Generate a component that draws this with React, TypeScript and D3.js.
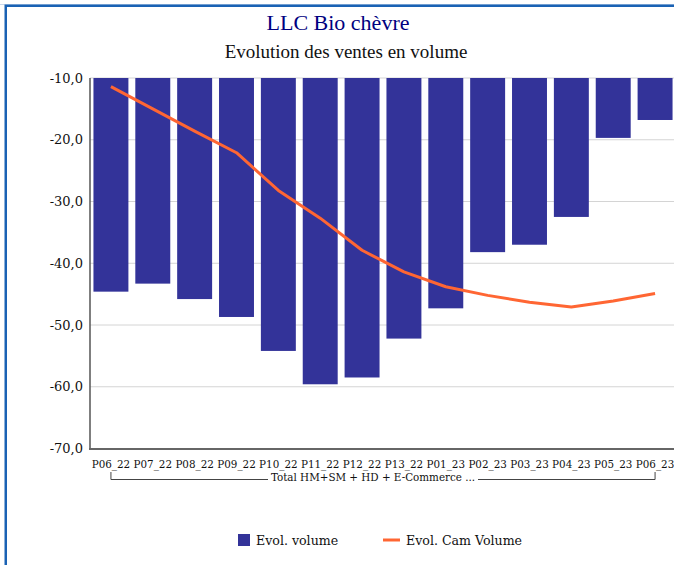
import React from "react";
import * as d3 from "d3";

const categories = ["P06_22","P07_22","P08_22","P09_22","P10_22","P11_22","P12_22","P13_22","P01_23","P02_23","P03_23","P04_23","P05_23","P06_23"];
const evolVolume = [-44.6,-43.3,-45.8,-48.7,-54.2,-59.6,-58.5,-52.2,-47.3,-38.2,-37.0,-32.5,-19.7,-16.8];
const evolCamVolume = [-11.4,-15.0,-18.6,-22.1,-28.2,-32.7,-37.9,-41.4,-43.8,-45.2,-46.3,-47.1,-46.1,-44.9];
const yTicks = [-10,-20,-30,-40,-50,-60,-70];
const groupLabel = "Total HM+SM + HD + E-Commerce ...";

const W = 674, H = 565;
const BAR = "#333399";
const LINE = "#ff6633";

export default function App() {
  const x = d3.scaleBand<string>().domain(categories).range([90, 676]).paddingInner(0.165).paddingOuter(0.0825);
  const y = d3.scaleLinear().domain([-70, -10]).range([448.5, 78]);
  const cx = (c: string) => (x(c) as number) + x.bandwidth() / 2;
  const line = d3.line<number>().x((_, i) => cx(categories[i])).y(d => y(d));
  const first = cx(categories[0]);
  const last = cx(categories[categories.length - 1]);
  const mid = (first + last) / 2 - 10;
  const fmt = (t: number) => t.toFixed(1).replace(".", ",");
  return (
    <svg width={W} height={H} style={{ position: "absolute", left: 0, top: 0, background: "#fff" }}>
      <line x1={0} x2={W} y1={4.5} y2={4.5} stroke="#c8d8ec" strokeWidth={1} />
      <path d={`M5.75,${H} V5.75 H${W}`} fill="none" stroke="#1a62b4" strokeWidth={2.5} />
      <text x={338} y={30} textAnchor="middle" fontFamily="Liberation Serif" fontSize={22} fill="#000080">LLC Bio chèvre</text>
      <text x={346} y={58} textAnchor="middle" fontFamily="Liberation Serif" fontSize={19} fill="#111">Evolution des ventes en volume</text>
      {yTicks.map(t => (
        <g key={t}>
          {t !== -70 && <line x1={90} x2={W} y1={y(t)} y2={y(t)} stroke="#d4d4d4" strokeWidth={1} />}
          <text x={83} y={y(t) + 4.5} textAnchor="end" fontFamily="DejaVu Serif" fontSize={13} fill="#111">{fmt(t)}</text>
        </g>
      ))}
      {categories.map((c, i) => (
        <rect key={c} x={x(c)} y={y(-10)} width={x.bandwidth()} height={y(evolVolume[i]) - y(-10)} fill={BAR} />
      ))}
      <path d={line(evolCamVolume) || ""} fill="none" stroke={LINE} strokeWidth={3} strokeLinejoin="round" />
      <line x1={90} x2={90} y1={78} y2={449.5} stroke="#555" strokeWidth={1.5} />
      <line x1={89} x2={W} y1={449} y2={449} stroke="#666" strokeWidth={2} />
      {categories.map(c => (
        <text key={c} x={cx(c)} y={468} textAnchor="middle" fontFamily="DejaVu Serif" fontStretch="condensed" fontSize={11.5} fill="#111">{c}</text>
      ))}
      <path d={`M${first},472 V479.5 H${mid - 105}`} fill="none" stroke="#444" strokeWidth={1} />
      <path d={`M${last},472 V479.5 H${mid + 105}`} fill="none" stroke="#444" strokeWidth={1} />
      <text x={mid} y={481} textAnchor="middle" fontFamily="DejaVu Serif" fontStretch="condensed" fontSize={11.5} fill="#111">{groupLabel}</text>
      <rect x={238} y={534} width={12} height={12} fill={BAR} />
      <text x={256} y={545} fontFamily="DejaVu Serif" fontSize={12.6} fill="#111">Evol. volume</text>
      <line x1={383} x2={400} y1={540} y2={540} stroke={LINE} strokeWidth={3} />
      <text x={406} y={545} fontFamily="DejaVu Serif" fontSize={12.6} fill="#111">Evol. Cam Volume</text>
    </svg>
  );
}
